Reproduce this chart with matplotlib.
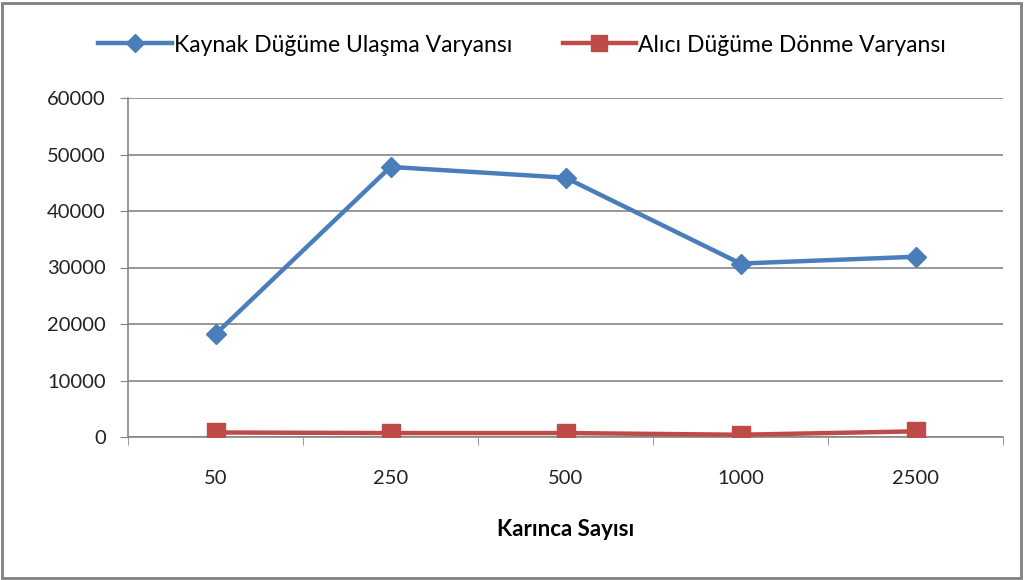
import matplotlib.pyplot as plt
from matplotlib.patches import Rectangle

# karınca sayısına göre varyans değerleri
karinca = ['50', '250', '500', '1000', '2500']
kaynak_varyans = [18200, 47800, 45900, 30700, 31900]
alici_varyans = [800, 700, 700, 400, 1000]
y_ticks = [0, 10000, 20000, 30000, 40000, 50000, 60000]

plt.rcParams['font.family'] = ['Lato', 'DejaVu Sans']

fig = plt.figure(figsize=(10.24, 5.8), dpi=100)
fig.patch.set_facecolor('#ffffff')
ax = fig.add_axes([128/1024, 1 - 437/580, 875/1024, 339/580])

x = range(len(karinca))
ax.plot(x, kaynak_varyans, color='#4a7ebb', linewidth=3.2, marker='D',
        markersize=10, label='Kaynak Düğüme Ulaşma Varyansı', zorder=4)
ax.plot(x, alici_varyans, color='#be4b48', linewidth=3.2, marker='s',
        markersize=13, label='Alıcı Düğüme Dönme Varyansı', zorder=4)

ax.set_xlim(-0.5, len(karinca) - 0.5)
ax.set_ylim(0, 60000)
ax.set_yticks(y_ticks)
ax.set_yticklabels([str(v) for v in y_ticks], fontsize=14.5, color='#222222')
ax.set_xticks(list(x))
ax.set_xticklabels(karinca, fontsize=14.5, color='#222222')
ax.set_xticks([i - 0.5 for i in range(len(karinca) + 1)], minor=True)
ax.tick_params(axis='x', which='major', length=0, pad=24)
ax.tick_params(axis='x', which='minor', length=6, color='#868686')
ax.tick_params(axis='y', length=6, color='#868686', pad=10)
ax.grid(axis='y', color='#868686', linewidth=1.2)
ax.set_axisbelow(True)

for s in ['top', 'right']:
    ax.spines[s].set_visible(False)
for s in ['left', 'bottom']:
    ax.spines[s].set_color('#868686')
    ax.spines[s].set_linewidth(1.2)

ax.set_xlabel('Karınca Sayısı', fontsize=16, fontweight='bold', labelpad=23)

fig.legend(loc='center', bbox_to_anchor=(0.51, 1 - 45/580), ncol=2,
           frameon=False, fontsize=16.5, handlelength=3.2, columnspacing=2.2,
           handletextpad=0.1, markerscale=0.9)

# çerçeve
fig.patches.append(Rectangle((0.002, 0.004), 0.995, 0.99, transform=fig.transFigure,
                             fill=False, edgecolor='#808080', linewidth=2))

fig.savefig('out.png', dpi=100)
